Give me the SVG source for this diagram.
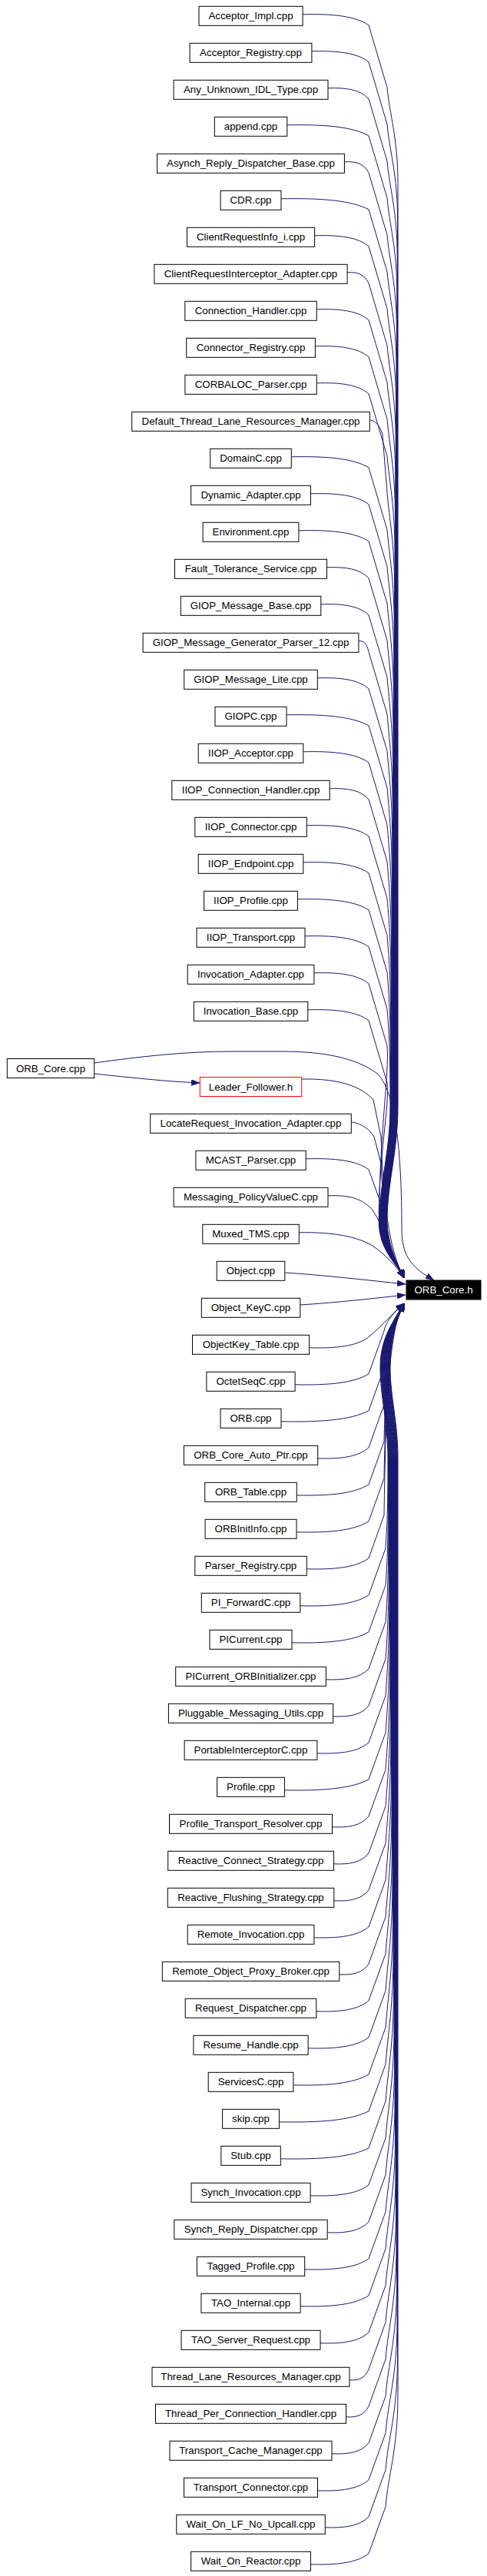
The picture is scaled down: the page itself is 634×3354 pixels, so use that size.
<svg xmlns="http://www.w3.org/2000/svg" width="634" height="3354" viewBox="0 0 634 3354">
<defs>
<marker id="a" markerWidth="11" markerHeight="8" refX="11" refY="4" orient="auto" markerUnits="userSpaceOnUse"><path d="M0,0 L11,4 L0,8 z" fill="#191970" stroke="#191970" stroke-width="0.5"/></marker>
<style>
.n rect{fill:#fff;stroke:#000;stroke-width:1}
.n text{font-family:"Liberation Sans",Arial,sans-serif;font-size:13.3px;text-anchor:middle;fill:#000}
#lf rect{stroke:#f00}
#orbh rect{fill:#000}
#orbh text{fill:#fff}
#edges path{fill:none;stroke:#191970;stroke-width:1;marker-end:url(#a)}
</style>
</defs>
<rect width="634" height="3354" fill="#fff"/>
<g id="edges">
<path d="M394.1,18.8 C432.7,17.8 462.8,20.8 480,32.8 L504,113.8 C507,148.8 518,178.8 518,238.8 L518,1440 C518,1500 504,1540 504,1590 C504,1630 520,1648 526,1664"/>
<path d="M405.9,66.8 C439.2,65.8 465.2,68.8 480,80.8 L504,161.8 C507,196.8 517.6,226.8 517.6,286.8 L517.6,1440 C517.6,1500 503.6,1540 503.6,1590 C503.6,1630 520,1648 526,1664"/>
<path d="M427,114.8 C450.8,113.8 469.4,116.8 480,128.8 L504,209.8 C507,244.8 517.2,274.8 517.2,334.8 L517.2,1440 C517.2,1500 503.2,1540 503.2,1590 C503.2,1630 520,1648 526,1664"/>
<path d="M373.8,162.8 C421.6,161.8 458.8,164.8 480,176.8 L504,257.8 C507,292.8 516.8,322.8 516.8,382.8 L516.8,1440 C516.8,1500 502.8,1540 502.8,1590 C502.8,1630 520,1648 526,1664"/>
<path d="M448.4,210.8 C462.6,209.8 473.7,212.8 480,224.8 L504,305.8 C507,340.8 516.4,370.8 516.4,430.8 L516.4,1440 C516.4,1500 502.4,1540 502.4,1590 C502.4,1630 520,1648 526,1664"/>
<path d="M366,258.8 C417.3,257.8 457.2,260.8 480,272.8 L504,353.8 C507,388.8 516,418.8 516,478.8 L516,1440 C516,1500 502,1540 502,1590 C502,1630 520,1648 526,1664"/>
<path d="M409.6,306.8 C441.3,305.8 465.9,308.8 480,320.8 L504,401.8 C507,436.8 515.6,466.8 515.6,526.8 L515.6,1440 C515.6,1500 501.6,1540 501.6,1590 C501.6,1630 520,1648 526,1664"/>
<path d="M452.1,354.8 C464.7,353.8 474.4,356.8 480,368.8 L504,449.8 C507,484.8 515.2,514.8 515.2,574.8 L515.2,1440 C515.2,1500 501.2,1540 501.2,1590 C501.2,1630 520,1648 526,1664"/>
<path d="M412.2,402.8 C442.7,401.8 466.4,404.8 480,416.8 L504,497.8 C507,532.8 514.8,562.8 514.8,622.8 L514.8,1440 C514.8,1500 500.8,1540 500.8,1590 C500.8,1630 520,1648 526,1664"/>
<path d="M410.4,450.8 C441.7,449.8 466.1,452.8 480,464.8 L504,545.8 C507,580.8 514.4,610.8 514.4,670.8 L514.4,1440 C514.4,1500 500.4,1540 500.4,1590 C500.4,1630 520,1648 526,1664"/>
<path d="M412.2,498.8 C442.7,497.8 466.4,500.8 480,512.8 L504,593.8 C507,628.8 514,658.8 514,718.8 L514,1440 C514,1500 500,1540 500,1590 C500,1630 520,1648 526,1664"/>
<path d="M481.3,546.8 C489,547.5 495,555 498,566 L504,641.8 C507,676.8 513.6,706.8 513.6,766.8 L513.6,1440 C513.6,1500 499.6,1540 499.6,1590 C499.6,1630 520,1648 526,1664"/>
<path d="M379.3,594.8 C424.6,593.8 459.9,596.8 480,608.8 L504,689.8 C507,724.8 513.2,754.8 513.2,814.8 L513.2,1440 C513.2,1500 499.2,1540 499.2,1590 C499.2,1630 520,1648 526,1664"/>
<path d="M404.4,642.8 C438.4,641.8 464.9,644.8 480,656.8 L504,737.8 C507,772.8 512.8,802.8 512.8,862.8 L512.8,1440 C512.8,1500 498.8,1540 498.8,1590 C498.8,1630 520,1648 526,1664"/>
<path d="M388.9,690.8 C429.9,689.8 461.8,692.8 480,704.8 L504,785.8 C507,820.8 512.4,850.8 512.4,910.8 L512.4,1440 C512.4,1500 498.4,1540 498.4,1590 C498.4,1630 520,1648 526,1664"/>
<path d="M425.5,738.8 C450,737.8 469.1,740.8 480,752.8 L504,833.8 C507,868.8 512,898.8 512,958.8 L512,1440 C512,1500 498,1540 498,1590 C498,1630 520,1648 526,1664"/>
<path d="M417.8,786.8 C445.8,785.8 467.6,788.8 480,800.8 L504,881.8 C507,916.8 511.6,946.8 511.6,1006.8 L511.6,1440 C511.6,1500 497.6,1540 497.6,1590 C497.6,1630 520,1648 526,1664"/>
<path d="M466.9,834.8 C472.8,833.8 477.4,836.8 480,848.8 L504,929.8 C507,964.8 511.2,994.8 511.2,1054.8 L511.2,1440 C511.2,1500 497.2,1540 497.2,1590 C497.2,1630 520,1648 526,1664"/>
<path d="M413.3,882.8 C443.3,881.8 466.7,884.8 480,896.8 L504,977.8 C507,1012.8 510.8,1042.8 510.8,1102.8 L510.8,1440 C510.8,1500 496.8,1540 496.8,1590 C496.8,1630 520,1648 526,1664"/>
<path d="M373,930.8 C421.2,929.8 458.6,932.8 480,944.8 L504,1025.8 C507,1060.8 510.4,1090.8 510.4,1150.8 L510.4,1440 C510.4,1500 496.4,1540 496.4,1590 C496.4,1630 520,1648 526,1664"/>
<path d="M394.8,978.8 C433.1,977.8 463,980.8 480,992.8 L504,1073.8 C507,1108.8 510,1138.8 510,1198.8 L510,1440 C510,1500 496,1540 496,1590 C496,1630 520,1648 526,1664"/>
<path d="M429.2,1026.8 C452.1,1025.8 469.8,1028.8 480,1040.8 L504,1121.8 C507,1156.8 509.6,1186.8 509.6,1246.8 L509.6,1440 C509.6,1500 495.6,1540 495.6,1590 C495.6,1630 520,1648 526,1664"/>
<path d="M399.3,1074.8 C435.6,1073.8 463.9,1076.8 480,1088.8 L504,1169.8 C507,1204.8 509.2,1234.8 509.2,1294.8 L509.2,1440 C509.2,1500 495.2,1540 495.2,1590 C495.2,1630 520,1648 526,1664"/>
<path d="M394.8,1122.8 C433.1,1121.8 463,1124.8 480,1136.8 L504,1217.8 C507,1252.8 508.8,1282.8 508.8,1342.8 L508.8,1440 C508.8,1500 494.8,1540 494.8,1590 C494.8,1630 520,1648 526,1664"/>
<path d="M387.4,1170.8 C429.1,1169.8 461.5,1172.8 480,1184.8 L504,1265.8 C507,1300.8 508.4,1330.8 508.4,1390.8 L508.4,1440 C508.4,1500 494.4,1540 494.4,1590 C494.4,1630 520,1648 526,1664"/>
<path d="M397,1218.8 C434.4,1217.8 463.4,1220.8 480,1232.8 L504,1313.8 C507,1348.8 508,1378.8 508,1438.8 L508,1440 C508,1500 494,1540 494,1590 C494,1630 520,1648 526,1664"/>
<path d="M408.9,1266.8 C440.9,1265.8 465.8,1268.8 480,1280.8 L504,1361.8 C507,1396.8 493.6,1480 493.6,1590 C493.6,1630 520,1648 526,1664"/>
<path d="M400.8,1314.8 C436.4,1313.8 464.2,1316.8 480,1328.8 L504,1409.8 C507,1444.8 493.2,1500 493.2,1590 C493.2,1630 520,1648 526,1664"/>
<path d="M122.7,1384 C180,1376 240,1369 300,1369 L368,1369 C420,1369 462,1377 490,1397 C515,1418 523,1500 523,1600 C523,1640 540,1652 565,1667"/>
<path d="M122.7,1398 C170,1403 215,1408 260,1410"/>
<path d="M392.7,1405 C440,1404 470,1414 486,1432 L496,1480 C499,1560 505,1625 526,1664"/>
<path d="M457.3,1460.8 C472,1463 480,1470 487,1480 L496,1515 C499,1580 505,1628 526,1664"/>
<path d="M398.2,1508.8 C436.4,1507.8 463.6,1510.8 480,1522.8 L497,1570 C501,1600 508,1635 526,1664"/>
<path d="M427,1556.8 C455,1556 468,1560 482,1572 C497,1588 510,1638 526,1664"/>
<path d="M389.3,1604.8 C434,1604 465,1610 485,1622 C502,1634 516,1648 526,1664"/>
<path d="M370.8,1657 C420,1660 480,1667 528,1672"/>
<path d="M390.8,1699 C440,1696 490,1690 528,1686"/>
<path d="M402.6,1754.8 C437.4,1755.8 464.5,1752.8 480,1740.8 C495,1728 512,1710 526,1697"/>
<path d="M384.1,1802.8 C427.3,1803.8 460.8,1800.8 480,1788.8 L500,1732.8 C502,1722 512,1708 526,1697"/>
<path d="M366,1850.8 C417.3,1851.8 457.2,1848.8 480,1836.8 L500,1780.8 C502,1738.9 506,1728 526,1697"/>
<path d="M413.7,1898.8 C443.5,1899.8 466.7,1896.8 480,1884.8 L500,1828.8 C502,1762.9 506,1728 526,1697"/>
<path d="M386.3,1946.8 C428.5,1947.8 461.3,1944.8 480,1932.8 L500,1876.8 C502,1786.9 506,1728 526,1697"/>
<path d="M386,1994.8 C428.3,1995.8 461.2,1992.8 480,1980.8 L500,1924.8 C502,1810.9 506,1728 526,1697"/>
<path d="M399.3,2042.8 C435.6,2043.8 463.9,2040.8 480,2028.8 L500,1972.8 C502,1834.9 506,1728 526,1697"/>
<path d="M390.8,2090.8 C430.9,2091.8 462.2,2088.8 480,2076.8 L502,2015.8 C505,1975.8 505,1940 505,1900 C505,1850 495,1820 495,1780 C495,1735 520,1712 526,1697"/>
<path d="M380,2138.8 C425,2139.8 460,2136.8 480,2124.8 L502,2063.8 C505,2023.8 505.5,1988.8 505.5,1918.8 L505.5,1900 C505.5,1850 495.5,1820 495.5,1780 C495.5,1735 520,1712 526,1697"/>
<path d="M424.4,2186.8 C449.4,2187.8 468.9,2184.8 480,2172.8 L502,2111.8 C505,2071.8 506,2036.8 506,1966.8 L506,1900 C506,1850 496,1820 496,1780 C496,1735 520,1712 526,1697"/>
<path d="M433.6,2234.8 C454.5,2235.8 470.7,2232.8 480,2220.8 L502,2159.8 C505,2119.8 506.5,2084.8 506.5,2014.8 L506.5,1900 C506.5,1850 496.5,1820 496.5,1780 C496.5,1735 520,1712 526,1697"/>
<path d="M412.9,2282.8 C443.1,2283.8 466.6,2280.8 480,2268.8 L502,2207.8 C505,2167.8 507,2132.8 507,2062.8 L507,1900 C507,1850 497,1820 497,1780 C497,1735 520,1712 526,1697"/>
<path d="M370.4,2330.8 C419.7,2331.8 458.1,2328.8 480,2316.8 L502,2255.8 C505,2215.8 507.5,2180.8 507.5,2110.8 L507.5,1900 C507.5,1850 497.5,1820 497.5,1780 C497.5,1735 520,1712 526,1697"/>
<path d="M432.5,2378.8 C453.9,2379.8 470.5,2376.8 480,2364.8 L502,2303.8 C505,2263.8 508,2228.8 508,2158.8 L508,1900 C508,1850 498,1820 498,1780 C498,1735 520,1712 526,1697"/>
<path d="M434.4,2426.8 C454.9,2427.8 470.9,2424.8 480,2412.8 L502,2351.8 C505,2311.8 508.5,2276.8 508.5,2206.8 L508.5,1900 C508.5,1850 498.5,1820 498.5,1780 C498.5,1735 520,1712 526,1697"/>
<path d="M434.8,2474.8 C455.1,2475.8 471,2472.8 480,2460.8 L502,2399.8 C505,2359.8 509,2324.8 509,2254.8 L509,1900 C509,1850 499,1820 499,1780 C499,1735 520,1712 526,1697"/>
<path d="M408.9,2522.8 C440.9,2523.8 465.8,2520.8 480,2508.8 L502,2447.8 C505,2407.8 509.5,2372.8 509.5,2302.8 L509.5,1900 C509.5,1850 499.5,1820 499.5,1780 C499.5,1735 520,1712 526,1697"/>
<path d="M441.8,2570.8 C459,2571.8 472.4,2568.8 480,2556.8 L502,2495.8 C505,2455.8 510,2420.8 510,2350.8 L510,1900 C510,1850 500,1820 500,1780 C500,1735 520,1712 526,1697"/>
<path d="M411.8,2618.8 C442.5,2619.8 466.4,2616.8 480,2604.8 L502,2543.8 C505,2503.8 510.5,2468.8 510.5,2398.8 L510.5,1900 C510.5,1850 500.5,1820 500.5,1780 C500.5,1735 520,1712 526,1697"/>
<path d="M401.1,2666.8 C436.6,2667.8 464.2,2664.8 480,2652.8 L502,2591.8 C505,2551.8 511,2516.8 511,2446.8 L511,1900 C511,1850 501,1820 501,1780 C501,1735 520,1712 526,1697"/>
<path d="M381.9,2714.8 C426,2715.8 460.4,2712.8 480,2700.8 L502,2639.8 C505,2599.8 511.5,2564.8 511.5,2494.8 L511.5,1900 C511.5,1850 501.5,1820 501.5,1780 C501.5,1735 520,1712 526,1697"/>
<path d="M363.4,2762.8 C415.9,2763.8 456.7,2760.8 480,2748.8 L502,2687.8 C505,2647.8 512,2612.8 512,2542.8 L512,1900 C512,1850 502,1820 502,1780 C502,1735 520,1712 526,1697"/>
<path d="M365.3,2810.8 C416.9,2811.8 457.1,2808.8 480,2796.8 L502,2735.8 C505,2695.8 512.5,2660.8 512.5,2590.8 L512.5,1900 C512.5,1850 502.5,1820 502.5,1780 C502.5,1735 520,1712 526,1697"/>
<path d="M404.1,2858.8 C438.2,2859.8 464.8,2856.8 480,2844.8 L502,2783.8 C505,2743.8 513,2708.8 513,2638.8 L513,1900 C513,1850 503,1820 503,1780 C503,1735 520,1712 526,1697"/>
<path d="M426.2,2906.8 C450.4,2907.8 469.2,2904.8 480,2892.8 L502,2831.8 C505,2791.8 513.5,2756.8 513.5,2686.8 L513.5,1900 C513.5,1850 503.5,1820 503.5,1780 C503.5,1735 520,1712 526,1697"/>
<path d="M396.7,2954.8 C434.2,2955.8 463.3,2952.8 480,2940.8 L502,2879.8 C505,2839.8 514,2804.8 514,2734.8 L514,1900 C514,1850 504,1820 504,1780 C504,1735 520,1712 526,1697"/>
<path d="M391.1,3002.8 C431.1,3003.8 462.2,3000.8 480,2988.8 L502,2927.8 C505,2887.8 514.5,2852.8 514.5,2782.8 L514.5,1900 C514.5,1850 504.5,1820 504.5,1780 C504.5,1735 520,1712 526,1697"/>
<path d="M417,3050.8 C445.4,3051.8 467.4,3048.8 480,3036.8 L502,2975.8 C505,2935.8 515,2900.8 515,2830.8 L515,1900 C515,1850 505,1820 505,1780 C505,1735 520,1712 526,1697"/>
<path d="M455,3098.8 C466.3,3099.8 475,3096.8 480,3084.8 L502,3023.8 C505,2983.8 515.5,2948.8 515.5,2878.8 L515.5,1900 C515.5,1850 505.5,1820 505.5,1780 C505.5,1735 520,1712 526,1697"/>
<path d="M450.5,3146.8 C463.8,3147.8 474.1,3144.8 480,3132.8 L502,3071.8 C505,3031.8 516,2996.8 516,2926.8 L516,1900 C516,1850 506,1820 506,1780 C506,1735 520,1712 526,1697"/>
<path d="M432,3194.8 C453.6,3195.8 470.4,3192.8 480,3180.8 L502,3119.8 C505,3079.8 516.5,3044.8 516.5,2974.8 L516.5,1900 C516.5,1850 506.5,1820 506.5,1780 C506.5,1735 520,1712 526,1697"/>
<path d="M413.5,3242.8 C443.4,3243.8 466.7,3240.8 480,3228.8 L502,3167.8 C505,3127.8 517,3092.8 517,3022.8 L517,1900 C517,1850 507,1820 507,1780 C507,1735 520,1712 526,1697"/>
<path d="M423.3,3290.8 C448.8,3291.8 468.7,3288.8 480,3276.8 L502,3215.8 C505,3175.8 517.5,3140.8 517.5,3070.8 L517.5,1900 C517.5,1850 507.5,1820 507.5,1780 C507.5,1735 520,1712 526,1697"/>
<path d="M404.4,3338.8 C438.4,3339.8 464.9,3336.8 480,3324.8 L502,3263.8 C505,3223.8 518,3188.8 518,3118.8 L518,1900 C518,1850 508,1820 508,1780 C508,1735 520,1712 526,1697"/>
</g>
<g id="n0" class="n"><rect x="259" y="8.3" width="135.1" height="25"/><text x="326.5" y="25.3">Acceptor_Impl.cpp</text></g>
<g id="n1" class="n"><rect x="247.1" y="56.3" width="158.8" height="25"/><text x="326.5" y="73.3">Acceptor_Registry.cpp</text></g>
<g id="n2" class="n"><rect x="226.1" y="104.3" width="200.9" height="25"/><text x="326.5" y="121.3">Any_Unknown_IDL_Type.cpp</text></g>
<g id="n3" class="n"><rect x="279.3" y="152.3" width="94.5" height="25"/><text x="326.5" y="169.3">append.cpp</text></g>
<g id="n4" class="n"><rect x="204.6" y="200.3" width="243.8" height="25"/><text x="326.5" y="217.3">Asynch_Reply_Dispatcher_Base.cpp</text></g>
<g id="n5" class="n"><rect x="287.1" y="248.3" width="78.9" height="25"/><text x="326.5" y="265.3">CDR.cpp</text></g>
<g id="n6" class="n"><rect x="243.4" y="296.3" width="166.2" height="25"/><text x="326.5" y="313.3">ClientRequestInfo_i.cpp</text></g>
<g id="n7" class="n"><rect x="200.9" y="344.3" width="251.2" height="25"/><text x="326.5" y="361.3">ClientRequestInterceptor_Adapter.cpp</text></g>
<g id="n8" class="n"><rect x="240.8" y="392.3" width="171.4" height="25"/><text x="326.5" y="409.3">Connection_Handler.cpp</text></g>
<g id="n9" class="n"><rect x="242.7" y="440.3" width="167.7" height="25"/><text x="326.5" y="457.3">Connector_Registry.cpp</text></g>
<g id="n10" class="n"><rect x="240.9" y="488.3" width="171.3" height="25"/><text x="326.5" y="505.3">CORBALOC_Parser.cpp</text></g>
<g id="n11" class="n"><rect x="171.7" y="536.3" width="309.6" height="25"/><text x="326.5" y="553.3">Default_Thread_Lane_Resources_Manager.cpp</text></g>
<g id="n12" class="n"><rect x="273.7" y="584.3" width="105.6" height="25"/><text x="326.5" y="601.3">DomainC.cpp</text></g>
<g id="n13" class="n"><rect x="248.6" y="632.3" width="155.8" height="25"/><text x="326.5" y="649.3">Dynamic_Adapter.cpp</text></g>
<g id="n14" class="n"><rect x="264.1" y="680.3" width="124.8" height="25"/><text x="326.5" y="697.3">Environment.cpp</text></g>
<g id="n15" class="n"><rect x="227.5" y="728.3" width="198" height="25"/><text x="326.5" y="745.3">Fault_Tolerance_Service.cpp</text></g>
<g id="n16" class="n"><rect x="235.3" y="776.3" width="182.5" height="25"/><text x="326.5" y="793.3">GIOP_Message_Base.cpp</text></g>
<g id="n17" class="n"><rect x="186.1" y="824.3" width="280.8" height="25"/><text x="326.5" y="841.3">GIOP_Message_Generator_Parser_12.cpp</text></g>
<g id="n18" class="n"><rect x="239.7" y="872.3" width="173.6" height="25"/><text x="326.5" y="889.3">GIOP_Message_Lite.cpp</text></g>
<g id="n19" class="n"><rect x="280" y="920.3" width="93" height="25"/><text x="326.5" y="937.3">GIOPC.cpp</text></g>
<g id="n20" class="n"><rect x="258.2" y="968.3" width="136.6" height="25"/><text x="326.5" y="985.3">IIOP_Acceptor.cpp</text></g>
<g id="n21" class="n"><rect x="223.8" y="1016.3" width="205.4" height="25"/><text x="326.5" y="1033.3">IIOP_Connection_Handler.cpp</text></g>
<g id="n22" class="n"><rect x="253.8" y="1064.3" width="145.5" height="25"/><text x="326.5" y="1081.3">IIOP_Connector.cpp</text></g>
<g id="n23" class="n"><rect x="258.2" y="1112.3" width="136.6" height="25"/><text x="326.5" y="1129.3">IIOP_Endpoint.cpp</text></g>
<g id="n24" class="n"><rect x="265.6" y="1160.3" width="121.8" height="25"/><text x="326.5" y="1177.3">IIOP_Profile.cpp</text></g>
<g id="n25" class="n"><rect x="256" y="1208.3" width="141" height="25"/><text x="326.5" y="1225.3">IIOP_Transport.cpp</text></g>
<g id="n26" class="n"><rect x="244.2" y="1256.3" width="164.7" height="25"/><text x="326.5" y="1273.3">Invocation_Adapter.cpp</text></g>
<g id="n27" class="n"><rect x="252.3" y="1304.3" width="148.5" height="25"/><text x="326.5" y="1321.3">Invocation_Base.cpp</text></g>
<g id="orbcpp" class="n"><rect x="9.3" y="1378.5" width="113.4" height="25"/><text x="66" y="1395.5">ORB_Core.cpp</text></g>
<g id="lf" class="n"><rect x="260.3" y="1402.5" width="132.4" height="25"/><text x="326.5" y="1419.5">Leader_Follower.h</text></g>
<g id="n29" class="n"><rect x="195.7" y="1450.3" width="261.6" height="25"/><text x="326.5" y="1467.3">LocateRequest_Invocation_Adapter.cpp</text></g>
<g id="n30" class="n"><rect x="254.9" y="1498.3" width="143.3" height="25"/><text x="326.5" y="1515.3">MCAST_Parser.cpp</text></g>
<g id="n31" class="n"><rect x="226.1" y="1546.3" width="200.9" height="25"/><text x="326.5" y="1563.3">Messaging_PolicyValueC.cpp</text></g>
<g id="n32" class="n"><rect x="263.8" y="1594.3" width="125.5" height="25"/><text x="326.5" y="1611.3">Muxed_TMS.cpp</text></g>
<g id="n33" class="n"><rect x="282.2" y="1642.3" width="88.6" height="25"/><text x="326.5" y="1659.3">Object.cpp</text></g>
<g id="n34" class="n"><rect x="262.3" y="1690.3" width="128.5" height="25"/><text x="326.5" y="1707.3">Object_KeyC.cpp</text></g>
<g id="n35" class="n"><rect x="250.5" y="1738.3" width="152.1" height="25"/><text x="326.5" y="1755.3">ObjectKey_Table.cpp</text></g>
<g id="n36" class="n"><rect x="268.9" y="1786.3" width="115.2" height="25"/><text x="326.5" y="1803.3">OctetSeqC.cpp</text></g>
<g id="n37" class="n"><rect x="287" y="1834.3" width="79" height="25"/><text x="326.5" y="1851.3">ORB.cpp</text></g>
<g id="n38" class="n"><rect x="239.4" y="1882.3" width="174.3" height="25"/><text x="326.5" y="1899.3">ORB_Core_Auto_Ptr.cpp</text></g>
<g id="n39" class="n"><rect x="266.7" y="1930.3" width="119.6" height="25"/><text x="326.5" y="1947.3">ORB_Table.cpp</text></g>
<g id="n40" class="n"><rect x="267.1" y="1978.3" width="118.9" height="25"/><text x="326.5" y="1995.3">ORBInitInfo.cpp</text></g>
<g id="n41" class="n"><rect x="253.8" y="2026.3" width="145.5" height="25"/><text x="326.5" y="2043.3">Parser_Registry.cpp</text></g>
<g id="n42" class="n"><rect x="262.3" y="2074.3" width="128.5" height="25"/><text x="326.5" y="2091.3">PI_ForwardC.cpp</text></g>
<g id="n43" class="n"><rect x="273" y="2122.3" width="107" height="25"/><text x="326.5" y="2139.3">PICurrent.cpp</text></g>
<g id="n44" class="n"><rect x="228.7" y="2170.3" width="195.7" height="25"/><text x="326.5" y="2187.3">PICurrent_ORBInitializer.cpp</text></g>
<g id="n45" class="n"><rect x="219.4" y="2218.3" width="214.2" height="25"/><text x="326.5" y="2235.3">Pluggable_Messaging_Utils.cpp</text></g>
<g id="n46" class="n"><rect x="240.1" y="2266.3" width="172.8" height="25"/><text x="326.5" y="2283.3">PortableInterceptorC.cpp</text></g>
<g id="n47" class="n"><rect x="282.6" y="2314.3" width="87.8" height="25"/><text x="326.5" y="2331.3">Profile.cpp</text></g>
<g id="n48" class="n"><rect x="220.5" y="2362.3" width="212" height="25"/><text x="326.5" y="2379.3">Profile_Transport_Resolver.cpp</text></g>
<g id="n49" class="n"><rect x="218.7" y="2410.3" width="215.7" height="25"/><text x="326.5" y="2427.3">Reactive_Connect_Strategy.cpp</text></g>
<g id="n50" class="n"><rect x="218.3" y="2458.3" width="216.5" height="25"/><text x="326.5" y="2475.3">Reactive_Flushing_Strategy.cpp</text></g>
<g id="n51" class="n"><rect x="244.2" y="2506.3" width="164.7" height="25"/><text x="326.5" y="2523.3">Remote_Invocation.cpp</text></g>
<g id="n52" class="n"><rect x="211.3" y="2554.3" width="230.5" height="25"/><text x="326.5" y="2571.3">Remote_Object_Proxy_Broker.cpp</text></g>
<g id="n53" class="n"><rect x="241.2" y="2602.3" width="170.6" height="25"/><text x="326.5" y="2619.3">Request_Dispatcher.cpp</text></g>
<g id="n54" class="n"><rect x="251.9" y="2650.3" width="149.2" height="25"/><text x="326.5" y="2667.3">Resume_Handle.cpp</text></g>
<g id="n55" class="n"><rect x="271.2" y="2698.3" width="110.7" height="25"/><text x="326.5" y="2715.3">ServicesC.cpp</text></g>
<g id="n56" class="n"><rect x="289.6" y="2746.3" width="73.8" height="25"/><text x="326.5" y="2763.3">skip.cpp</text></g>
<g id="n57" class="n"><rect x="287.8" y="2794.3" width="77.5" height="25"/><text x="326.5" y="2811.3">Stub.cpp</text></g>
<g id="n58" class="n"><rect x="249" y="2842.3" width="155.1" height="25"/><text x="326.5" y="2859.3">Synch_Invocation.cpp</text></g>
<g id="n59" class="n"><rect x="226.8" y="2890.3" width="199.4" height="25"/><text x="326.5" y="2907.3">Synch_Reply_Dispatcher.cpp</text></g>
<g id="n60" class="n"><rect x="256.4" y="2938.3" width="140.3" height="25"/><text x="326.5" y="2955.3">Tagged_Profile.cpp</text></g>
<g id="n61" class="n"><rect x="261.9" y="2986.3" width="129.2" height="25"/><text x="326.5" y="3003.3">TAO_Internal.cpp</text></g>
<g id="n62" class="n"><rect x="236" y="3034.3" width="181" height="25"/><text x="326.5" y="3051.3">TAO_Server_Request.cpp</text></g>
<g id="n63" class="n"><rect x="198" y="3082.3" width="257" height="25"/><text x="326.5" y="3099.3">Thread_Lane_Resources_Manager.cpp</text></g>
<g id="n64" class="n"><rect x="202.5" y="3130.3" width="248" height="25"/><text x="326.5" y="3147.3">Thread_Per_Connection_Handler.cpp</text></g>
<g id="n65" class="n"><rect x="221" y="3178.3" width="211" height="25"/><text x="326.5" y="3195.3">Transport_Cache_Manager.cpp</text></g>
<g id="n66" class="n"><rect x="239.5" y="3226.3" width="174" height="25"/><text x="326.5" y="3243.3">Transport_Connector.cpp</text></g>
<g id="n67" class="n"><rect x="229.8" y="3274.3" width="193.5" height="25"/><text x="326.5" y="3291.3">Wait_On_LF_No_Upcall.cpp</text></g>
<g id="n68" class="n"><rect x="248.6" y="3322.3" width="155.8" height="25"/><text x="326.5" y="3339.3">Wait_On_Reactor.cpp</text></g>
<g id="orbh" class="n"><rect x="529" y="1667" width="97" height="25"/><text x="577.5" y="1684">ORB_Core.h</text></g>
</svg>
